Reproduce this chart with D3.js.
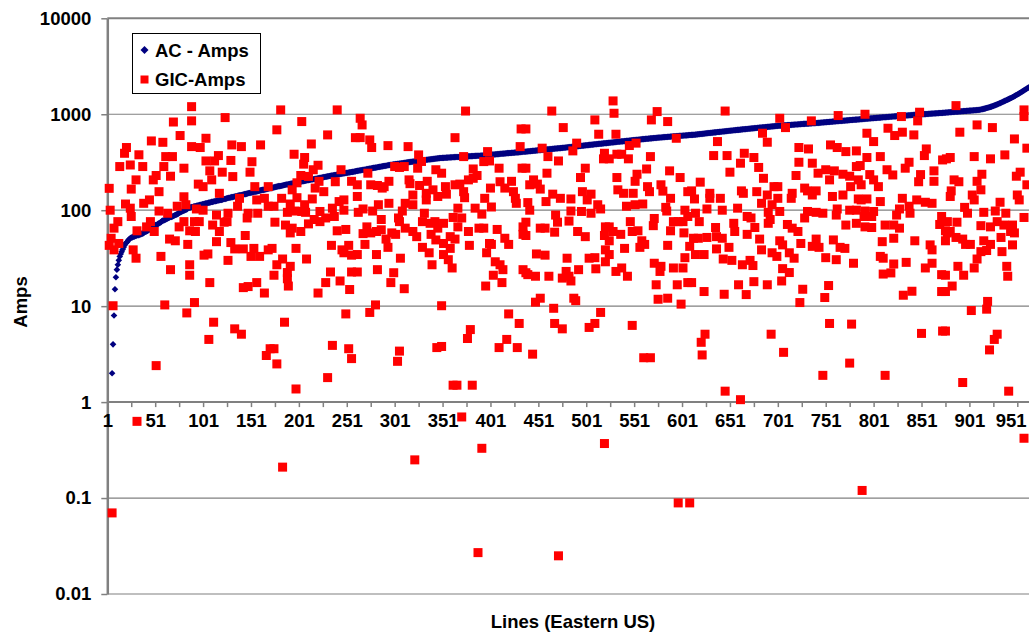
<!DOCTYPE html>
<html>
<head>
<meta charset="utf-8">
<script src="https://cdn.jsdelivr.net/npm/d3@7"></script>
<style>
  body { margin: 0; background: #fff; }
  text { font-family: "Liberation Sans", Arial, sans-serif; font-weight: bold; fill: #000; }
</style>
</head>
<body>
<svg id="chart" width="1029" height="634"></svg>
<script>
// ---- Data -------------------------------------------------------------
// Axis labels
const yTickValues = [0.01, 0.1, 1, 10, 100, 1000, 10000];
const yTickLabels = ["0.01", "0.1", "1", "10", "100", "1000", "10000"];
const xLabelLines = [1, 51, 101, 151, 201, 251, 301, 351, 401, 451, 501, 551, 601, 651, 701, 751, 801, 851, 901, 951];
const xTitle = "Lines (Eastern US)";
const yTitle = "Amps";
const seriesNames = ["AC - Amps", "GIC-Amps"];

// AC current per line, lines sorted by AC current (first plotted line is number 6)
const acFirstLine = 6;
const acAmps = [
  2,4,8,15,20,24,27,30,33,35,37,39,41,43,45,46,47,49,50,51,
  52,52,53,53,54,54,55,55,55,56,
  56,57,57,58,59,60,60,61,62,63,
  64,65,66,67,68,70,70,71,72,73,
  74,75,77,78,78,79,80,81,82,83,
  84,85,85,86,87,88,89,90,91,92,
  94,95,96,97,98,99,100,101,102,104,
  106,106,107,108,108,109,110,110,111,112,
  112,113,114,114,115,116,116,117,118,118,
  119,120,120,121,122,122,123,124,124,125,
  126,126,127,128,128,129,130,131,131,132,
  133,134,135,135,136,137,137,138,139,140,
  140,141,142,143,143,144,145,146,147,147,
  148,149,150,151,151,152,153,154,155,156,
  156,157,158,159,160,161,162,163,163,164,
  165,166,167,168,169,170,170,171,172,173,
  174,175,176,177,178,178,179,180,181,182,
  183,184,185,185,186,187,188,189,190,191,
  192,193,194,195,196,197,198,198,199,200,
  201,202,203,204,205,206,207,208,209,209,
  210,211,212,213,214,215,216,217,218,219,
  220,221,222,223,224,225,226,227,228,229,
  230,231,232,233,234,235,236,237,238,239,
  240,241,242,243,244,245,246,247,248,249,
  250,251,252,253,254,256,257,258,259,260,
  261,262,263,264,265,266,268,269,270,271,
  272,273,275,276,277,278,279,280,282,283,
  284,285,286,288,289,290,291,292,294,295,
  296,297,298,299,300,301,302,303,304,305,
  306,307,308,309,310,311,312,313,315,316,
  317,318,319,320,321,322,323,324,325,326,
  327,328,329,330,331,332,333,334,335,336,
  337,338,339,340,341,342,343,344,345,346,
  347,348,349,350,350,351,351,352,352,353,
  353,354,354,355,355,356,356,357,357,358,
  358,359,359,360,360,361,361,362,362,363,
  363,364,364,365,365,366,366,367,367,368,
  368,369,369,370,370,371,371,372,372,373,
  374,375,375,376,377,378,379,380,380,381,
  382,383,384,384,385,386,387,388,389,389,
  390,391,392,393,393,394,395,396,397,397,
  398,399,400,401,401,402,403,404,405,406,
  407,407,408,409,410,411,412,413,414,415,
  416,417,418,419,420,421,422,423,424,425,
  426,427,428,429,430,431,432,433,434,435,
  436,437,438,439,440,441,442,443,444,445,
  446,447,448,449,450,452,453,454,455,456,
  457,458,459,461,462,463,464,465,467,468,
  469,470,471,473,474,475,476,477,479,480,
  481,482,483,485,486,487,488,489,491,492,
  493,494,495,497,498,499,500,501,503,504,
  505,507,508,509,511,512,513,515,516,517,
  518,520,521,522,524,525,526,528,529,530,
  531,533,534,535,537,538,539,541,542,543,
  544,546,547,548,550,551,552,554,555,556,
  557,559,560,561,563,564,565,566,567,569,
  570,571,572,573,574,575,577,578,579,580,
  581,582,583,585,586,587,588,589,590,591,
  592,594,595,596,597,598,599,600,601,602,
  603,605,606,607,608,609,610,611,612,614,
  615,617,618,620,622,623,625,627,628,630,
  632,633,635,637,638,640,642,643,645,647,
  648,650,652,653,655,657,658,660,662,663,
  665,667,668,670,672,673,675,677,678,680,
  682,683,685,687,688,690,692,693,695,697,
  698,700,702,703,705,707,708,710,712,713,
  715,717,718,720,722,723,725,727,728,730,
  732,733,735,737,738,740,742,743,745,747,
  748,750,752,753,755,757,758,760,761,762,
  763,765,766,767,769,770,771,773,774,775,
  777,778,779,781,782,783,785,786,787,789,
  790,791,793,794,795,797,798,799,801,802,
  803,805,806,807,809,810,811,813,814,815,
  817,819,820,822,824,825,827,829,830,832,
  834,836,837,839,841,842,844,846,847,849,
  851,853,854,856,858,859,861,863,864,866,
  868,870,871,873,875,876,878,880,881,883,
  885,887,888,890,892,894,895,897,899,900,
  902,904,906,908,909,911,913,915,916,918,
  920,922,923,925,927,929,930,932,934,936,
  937,939,941,943,944,946,948,950,951,953,
  955,957,958,960,962,964,965,967,969,971,
  972,974,976,977,979,981,982,984,986,987,
  989,991,992,994,996,997,999,1001,1002,1004,
  1006,1007,1009,1011,1012,1014,1016,1017,1019,1021,
  1022,1024,1026,1027,1029,1031,1032,1034,1036,1038,
  1040,1042,1044,1046,1048,1050,1052,1054,1056,1058,
  1060,1062,1064,1066,1068,1070,1072,1074,1076,1078,
  1080,1082,1084,1086,1088,1090,1092,1094,1096,1098,
  1100,1102,1104,1106,1108,1112,1116,1120,1126,1132,
  1138,1145,1152,1160,1168,1176,1184,1193,1202,1212,
  1222,1232,1244,1256,1268,1280,1293,1306,1320,1334,
  1348,1362,1377,1392,1407,1422,1438,1454,1470,1487,
  1505,1524,1544,1564,1585,1606,1628,1651,1674,1698,
  1722,1747,1772,1798,1825,1852,1880,1908
];

// GIC current readings: [line number, amps]
const gicReadings = [
  // lines 1-85
  [70,830],[77,600],[47,527],[59,510],[21,450],[19,392],[34,378],[14,285],[25,296],[38,285],
  [62,362],[69,362],[60,285],[81,274],[52,230],[67,226],[31,207],[49,207],[3,169],[26,166],
  [55,156],[45,128],[39,118],[81,138],[20,116],[25,105],[4,100],[55,98],[64,93],[74,110],
  [83,114],[26,86],[12,76],[46,76],[8,65],[42,67],[50,60],[76,67],[81,76],[32,61],
  [5,51],[13,45],[66,50],[72,48],[3,43],[8,38.6],[28,38.6],[85,44],[31,31.6],[57,33],
  [67,24],[7,10.1],[61,10.3],[84,8.5],[52,2.4],[32,0.63],[6,0.07],
  // lines 86-172
  [89,1200],[89,853],[124,923],[104,562],[89,460],[98,450],[131,479],[141,460],[161,479],[117,371],
  [104,326],[113,326],[130,330],[152,320],[108,257],[121,249],[132,224],[150,249],[110,207],[96,187],
  [101,176],[118,150],[155,176],[169,176],[139,133],[157,128],[165,133],[94,103],[101,100],[115,89],
  [127,93],[137,110],[148,93],[158,93],[169,110],[92,76],[97,76],[111,70],[123,75],[126,76],
  [147,83],[118,60],[87,61],[93,60],[115,47],[130,46],[145,54.5],[134,39.5],[143,39.5],[154,40],
  [169,38.6],[151,33],[160,33],[102,34],[106,35],[127,30],[87,27],[87,21],[108,17.6],[143,15.6],
  [148,16],[157,17.6],[165,13.7],[92,10.9],[112,6.8],[134,5.8],[141,5.1],[107,4.5],[167,3.06],[171,3.6],
  // lines 173-260
  [182,1110],[241,1110],[178,688],[204,839],[231,609],[260,570],[214,490],[196,383],[207,354],[206,302],
  [221,294],[216,264],[245,264],[203,230],[211,225],[222,200],[239,198],[256,200],[199,193],[194,163],
  [218,170],[227,156],[183,133],[199,135],[215,131],[243,123],[248,128],[175,110],[192,116],[207,114],
  [204,97],[223,97],[236,105],[248,100],[189,95],[197,98],[208,95],[238,86],[229,83],[217,80],
  [176,75],[187,70],[211,72],[223,76],[194,65],[203,60],[241,61],[250,63],[192,58],[173,40],
  [198,40],[235,43],[246,38.6],[253,43],[209,31],[184,31],[248,36],[256,34],[178,27],[192,26],
  [189,22.4],[175,21],[234,22.7],[256,22.7],[189,19.3],[190,16.2],[229,17.6],[244,18.3],[221,13.7],[254,14.9],
  [186,6.8],[250,8.3],[175,3.6],[236,3.9],[253,3.6],[256,2.84],[178,2.5],[231,1.8],[198,1.37],[184,0.21],
  // lines 261-348
  [265,908],[267,774],[265,571],[275,540],[277,450],[294,471],[315,460],[326,377],[329,322],[325,274],
  [344,264],[301,285],[306,279],[311,285],[273,243],[276,184],[283,181],[290,176],[295,200],[316,207],
  [317,189],[327,181],[335,200],[262,184],[262,139],[288,170],[334,150],[341,163],[320,144],[334,128],
  [346,139],[284,114],[278,98],[295,118],[312,118],[320,114],[268,103],[263,95],[309,98],[332,93],
  [287,80],[305,83],[306,76],[312,65],[330,76],[338,73],[343,76],[346,65],[272,67],[276,58],
  [268,57],[282,60],[287,62.5],[302,56],[298,58],[320,60],[324,53],[339,56],[344,49],[292,50],
  [294,41],[270,44],[330,41],[337,36],[340,27],[282,34.5],[307,31.6],[262,34.5],[262,22.7],[283,24],
  [300,22.3],[297,17.6],[311,15.2],[281,10.3],[275,8.6],[306,3.4],[304,2.66],[345,3.7],[322,0.25],
  // lines 349-436
  [375,1080],[433,703],[364,570],[432,460],[373,362],[398,408],[394,321],[400,326],[383,269],[410,274],
  [434,274],[350,243],[383,215],[378,207],[387,230],[411,198],[423,200],[354,176],[364,184],[369,187],
  [401,170],[416,170],[425,156],[373,156],[355,147],[374,135],[395,133],[427,133],[428,118],[385,105],
  [402,108],[367,105],[392,91],[362,84],[371,83],[352,73],[367,67],[378,60],[389,65],[394,65],
  [408,63],[416,51],[420,44],[435,67],[435,56],[359,53],[364,50],[352,45],[359,40],[379,43],
  [400,45],[402,44],[397,36],[352,34.5],[357,30.5],[361,25],[406,29],[411,27],[414,24],[404,21],
  [413,17.6],[396,16.2],[435,24],[350,10.1],[420,8.3],[431,6.6],[380,5.7],[377,4.6],[418,4.5],[410,3.7],
  [429,3.7],[350,3.8],[362,1.5],[366,1.5],[382,1.5],[371,0.7],[392,0.33],[388,0.027],
  // lines 437-524
  [465,1080],[510,873],[477,726],[514,619],[438,703],[455,443],[491,500],[487,415],[520,392],[519,343],
  [461,362],[472,326],[438,274],[500,274],[460,243],[495,219],[446,207],[450,187],[442,184],[453,166],
  [497,156],[506,147],[466,147],[474,133],[485,131],[502,128],[513,114],[440,120],[459,123],[442,100],
  [485,98],[496,97],[506,93],[516,103],[469,89],[438,75],[471,75],[483,77],[453,65],[458,65],
  [468,59],[492,60],[500,53],[521,67],[520,54.5],[438,54.5],[449,35],[458,34],[481,31.6],[504,31.6],
  [510,32],[521,38.6],[521,29],[511,24.5],[493,24],[480,23],[483,20.5],[476,19.6],[485,18.3],[438,22.3],
  [440,21.3],[448,20.5],[462,20.5],[453,12.1],[448,11],[488,12.1],[490,11.4],[467,9.5],[516,8.6],[468,6.6],
  [476,5.8],[504,6.0],[510,6.6],[445,3.16],[472,0.025],[520,0.37],
  // lines 525-611
  [529,1377],[530,1024],[575,1066],[569,873],[586,839],[532,619],[595,562],[546,472],[553,500],[538,383],
  [545,343],[568,362],[525,343],[533,383],[564,269],[554,237],[588,257],[599,219],[533,219],[552,200],
  [534,163],[565,176],[567,156],[579,184],[581,158],[607,156],[540,150],[550,150],[589,133],[543,110],
  [552,114],[560,116],[584,107],[585,98],[604,100],[607,86],[572,82],[571,69],[592,76],[597,76],
  [602,76],[525,67],[529,60],[547,76],[537,56],[549,60],[555,61],[589,61],[603,58],[525,48],
  [559,48],[562,44],[557,41],[586,43],[541,40],[609,42],[525,34.5],[604,32],[572,28],[579,26],
  [578,23],[532,23],[538,25],[592,25],[602,25],[544,20.5],[607,17.6],[574,16.7],[596,16.7],[576,11.8],
  [586,12.1],[600,10.5],[549,6.3],[561,2.9],[568,2.9],[597,0.089],[609,0.089],
  // lines 612-699
  [646,1080],[685,634],[690,511],[638,519],[634,371],[648,371],[666,392],[676,354],[662,309],[681,279],
  [651,249],[686,215],[620,196],[697,176],[611,159],[663,159],[665,150],[679,156],[690,144],[630,150],
  [630,133],[641,133],[614,131],[684,118],[695,114],[691,95],[627,103],[643,100],[659,105],[615,93],
  [669,86],[673,83],[693,80],[619,76],[636,66],[655,73],[677,66],[691,73],[656,60],[669,56],
  [613,51],[618,51],[627,52],[637,53],[643,51],[682,50],[650,41],[637,39.5],[684,38.6],[695,36],
  [615,34.5],[624,34.5],[644,31],[653,30],[664,27],[672,30],[675,26.5],[611,17.6],[624,14.2],[645,13.3],
  [660,16.7],[668,13.2],[676,18],[690,16.7],[625,5.1],[621,4.2],[622,3.1],[694,5.1],[646,1.3],[662,1.06],
  // lines 700-787
  [703,908],[709,726],[736,853],[764,969],[723,450],[733,435],[756,479],[763,450],[772,408],[783,415],
  [723,316],[737,309],[783,285],[743,243],[720,230],[751,264],[760,257],[755,207],[769,237],[776,226],
  [785,207],[777,176],[729,170],[732,159],[741,159],[701,176],[716,150],[715,133],[737,144],[758,139],
  [769,144],[701,133],[785,131],[763,103],[776,100],[783,100],[762,89],[732,97],[741,95],[748,93],
  [729,83],[703,97],[772,70],[783,73],[711,71],[716,65],[722,60],[725,45],[703,48],[706,43.5],
  [741,50],[737,42],[744,41],[759,49],[766,41],[771,40],[713,36],[718,31.6],[751,32],[762,30.5],
  [700,33],[780,28],[706,24.6],[713,22.4],[705,18.3],[727,15],[754,16.4],[750,12.3],[724,10.9],[755,6.6],
  [778,6.5],[707,3.3],[776,2.55],[748,1.9],
  // lines 788-874
  [792,1000],[830,946],[849,1050],[847,853],[794,634],[816,715],[823,600],[831,650],[843,609],[801,519],
  [856,435],[854,371],[794,354],[808,362],[787,292],[838,316],[834,274],[873,334],[815,264],[821,233],
  [797,235],[850,235],[864,257],[801,207],[806,176],[848,198],[864,200],[788,184],[831,133],[808,123],
  [794,131],[788,128],[846,128],[855,121],[862,118],[838,110],[828,103],[792,98],[872,86],[801,97],
  [825,89],[839,93],[799,86],[791,86],[870,71],[792,67],[799,66],[813,70],[822,70],[828,65],
  [822,51],[844,48],[810,47],[860,43.5],[862,38.6],[808,33],[811,31.6],[822,27.5],[835,28.6],[855,25],
  [862,28],[811,21.6],[819,22.2],[872,21.3],[841,14.3],[832,13],[872,14.2],[851,5.2],[873,5.5],[813,1.9],
  [789,0.12],
  // lines 875-963
  [887,1230],[958,946],[958,1110],[909,774],[925,726],[891,650],[948,553],[961,443],[877,343],[881,354],
  [906,362],[923,343],[938,377],[954,249],[950,226],[914,237],[885,207],[890,198],[909,200],[961,184],
  [882,159],[913,163],[881,139],[904,144],[906,128],[951,144],[953,128],[933,121],[896,107],[899,93],
  [916,95],[928,98],[939,93],[958,84],[878,76],[888,75],[913,69],[923,67],[930,76],[937,70],
  [946,70],[876,61],[878,58],[881,60],[887,52],[894,50],[934,52],[944,60],[948,58],[876,48],
  [897,44],[902,44],[916,48],[923,44],[946,43.5],[913,37],[919,38],[909,31],[935,37],[906,25],
  [889,26],[940,26],[895,21],[941,20.5],[876,21],[883,16.2],[876,14.2],[903,9],[920,11.2],[919,9.3],
  [876,5.5],[930,5.1],[927,4.5],[922,3.5],[894,1.6],[942,1.3],[958,0.42]
];

// ---- Chart ------------------------------------------------------------
const svg = d3.select("#chart");
const W = 1029;

const x = d3.scaleLinear().domain([1, 951]).range([107.3, 1017.3]);
const y = d3.scaleLog().domain([0.01, 10000]).range([594, 18.3]);

const FONT = "18.5px";
const GRID = "#808080";

// horizontal gridlines at every decade
svg.append("g")
  .selectAll("line")
  .data(yTickValues)
  .join("line")
  .attr("x1", x(1)).attr("x2", W)
  .attr("y1", d => y(d)).attr("y2", d => y(d))
  .attr("stroke", GRID)
  .attr("stroke-width", d => d === 10000 ? 2 : 1.2);

// y axis
const yAxis = svg.append("g")
  .attr("transform", `translate(${x(1)},0)`)
  .call(d3.axisLeft(y)
    .tickValues(yTickValues)
    .tickFormat((d, i) => yTickLabels[i])
    .tickSize(6)
    .tickSizeOuter(0)
    .tickPadding(10));
yAxis.select(".domain").attr("stroke", GRID).attr("stroke-width", 2.5);
yAxis.selectAll(".tick line").attr("stroke", GRID).attr("stroke-width", 1.5);
yAxis.selectAll("text").style("font-size", FONT).attr("fill", "#000")
  .style("font-family", '"Liberation Sans", Arial, sans-serif').style("font-weight", "bold");

// x axis crossing at 1 amp, ticks every 25 lines, labels every 50
const xTickLines = d3.range(1, 952, 25);
const xAxis = svg.append("g")
  .attr("transform", `translate(0,${y(1)})`)
  .call(d3.axisBottom(x)
    .tickValues(xTickLines)
    .tickFormat(d => xLabelLines.includes(d) ? String(d) : "")
    .tickSize(5)
    .tickSizeOuter(0)
    .tickPadding(7));
xAxis.select(".domain").remove();
xAxis.append("line")
  .attr("x1", x(1)).attr("x2", W).attr("y1", 0).attr("y2", 0)
  .attr("stroke", GRID).attr("stroke-width", 2);
xAxis.selectAll(".tick line").attr("stroke", GRID).attr("stroke-width", 1.5);
xAxis.selectAll("text").style("font-size", FONT).attr("fill", "#000")
  .style("font-family", '"Liberation Sans", Arial, sans-serif').style("font-weight", "bold");
// keep the last label inside the chart's right edge
const lastLabel = xLabelLines[xLabelLines.length - 1];
xAxis.selectAll(".tick")
  .filter(d => d === lastLabel)
  .select("text")
  .attr("text-anchor", "end")
  .attr("x", (W - 3) - x(lastLabel));

// AC series: navy diamonds
const acData = acAmps.map((v, k) => ({ line: acFirstLine + k, amps: v }));
const diamond = r => `M0,${-r}L${r},0L0,${r}L${-r},0Z`;
svg.append("g")
  .selectAll("path")
  .data(acData)
  .join("path")
  .attr("d", diamond(3.3))
  .attr("transform", d => `translate(${x(d.line)},${y(d.amps)})`)
  .attr("fill", "#000080");

// GIC series: red squares
const SQ = 9;
svg.append("g")
  .selectAll("rect")
  .data(gicReadings)
  .join("rect")
  .attr("x", d => x(d[0]) - SQ / 2)
  .attr("y", d => y(d[1]) - SQ / 2)
  .attr("width", SQ).attr("height", SQ)
  .attr("fill", "#ff0000");

// axis titles
svg.append("text")
  .attr("transform", "translate(27,302) rotate(-90)")
  .attr("text-anchor", "middle")
  .style("font-size", FONT)
  .text(yTitle);
svg.append("text")
  .attr("x", 573).attr("y", 628)
  .attr("text-anchor", "middle")
  .style("font-size", FONT)
  .text(xTitle);

// legend
const legend = svg.append("g");
legend.append("rect")
  .attr("x", 132.5).attr("y", 33.5).attr("width", 128).attr("height", 60)
  .attr("fill", "#fff").attr("stroke", "#000").attr("stroke-width", 1);
legend.append("path")
  .attr("d", diamond(4))
  .attr("transform", "translate(144.5,50)")
  .attr("fill", "#000080");
legend.append("rect")
  .attr("x", 140.5).attr("y", 75.5).attr("width", 8).attr("height", 8)
  .attr("fill", "#ff0000");
legend.append("text").attr("x", 155).attr("y", 57).style("font-size", FONT).text(seriesNames[0]);
legend.append("text").attr("x", 155).attr("y", 86).style("font-size", FONT).text(seriesNames[1]);
</script>
</body>
</html>
